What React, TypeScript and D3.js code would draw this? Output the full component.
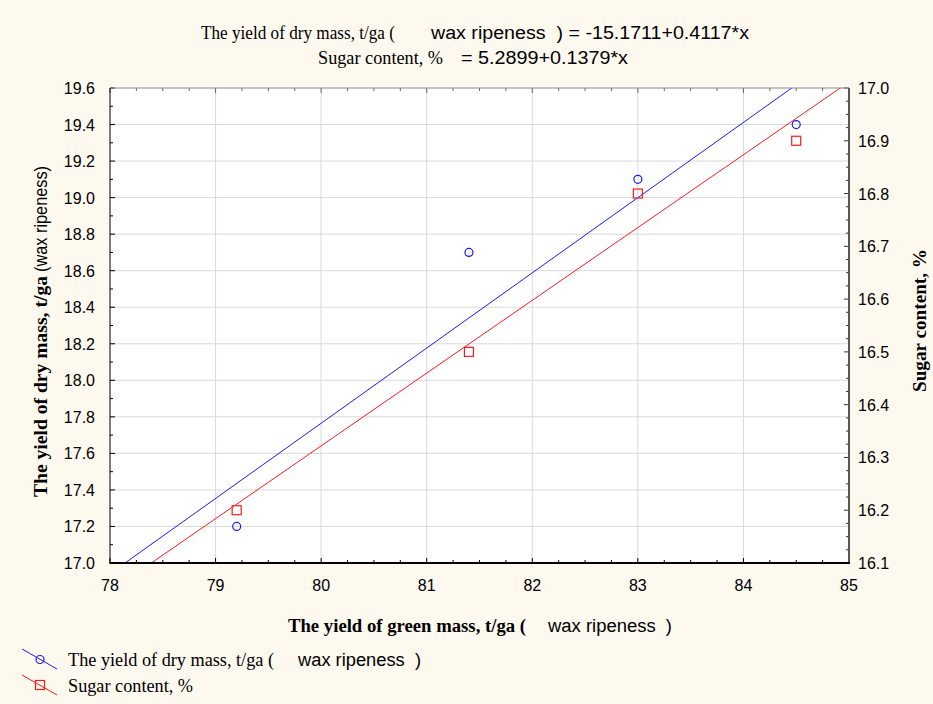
import React from "react";
import * as d3 from "d3";

const xValues = [79.2, 81.4, 83.0, 84.5];
const dryMass = [17.2, 18.7, 19.1, 19.4];
const sugar = [16.2, 16.5, 16.8, 16.9];
const xTicks = [78, 79, 80, 81, 82, 83, 84, 85];
const leftTicks = [17.0, 17.2, 17.4, 17.6, 17.8, 18.0, 18.2, 18.4, 18.6, 18.8, 19.0, 19.2, 19.4, 19.6];
const rightTicks = [16.1, 16.2, 16.3, 16.4, 16.5, 16.6, 16.7, 16.8, 16.9, 17.0];
const dryFit = [-15.1711, 0.4117];
const sugarFit = [5.2899, 0.1379];

const W = 933, H = 704;
const L = 110, R = 849, T = 88, B = 563;
const SERIF = "'Liberation Serif', 'Times New Roman', serif";
const SANS = "'Liberation Sans', Arial, sans-serif";
const BLUE = "#1a1aff";
const RED = "#ff1a1a";

type TProps = {
  x: number;
  y: number;
  len: number;
  serif?: boolean;
  bold?: boolean;
  size?: number;
  children: string;
};

function T_({ x, y, len, serif, bold, size, children }: TProps) {
  return (
    <text
      x={x}
      y={y}
      fontFamily={serif ? SERIF : SANS}
      fontWeight={bold ? "bold" : "normal"}
      fontSize={size ?? 18}
      fill="#000"
      textLength={len}
      lengthAdjust="spacingAndGlyphs"
      style={{ whiteSpace: "pre" }}
    >
      {children}
    </text>
  );
}

export default function App() {
  const x = d3.scaleLinear().domain([78, 85]).range([L, R]);
  const yL = d3.scaleLinear().domain([17.0, 19.6]).range([B, T]);
  const yR = d3.scaleLinear().domain([16.1, 17.0]).range([B, T]);

  const xMinor = d3.range(78, 85.001, 0.25);
  const lMinor = d3.range(17.0, 19.601, 0.1);
  const rMinor = d3.range(16.1, 17.001, 0.025);

  const lineGen = (fit: number[], y: d3.ScaleLinear<number, number>) =>
    d3.line<number>().x((d) => x(d)).y((d) => y(fit[0] + fit[1] * d))([77.5, 85.5]) || "";

  return (
    <svg width={W} height={H} style={{ position: "absolute", left: 0, top: 0 }}>
      <defs>
        <clipPath id="plotclip">
          <rect x={L} y={T} width={R - L} height={B - T} />
        </clipPath>
      </defs>
      <rect x={0} y={0} width={W} height={H} fill="#fdf9ef" />
      <rect x={L} y={T} width={R - L} height={B - T} fill="#ffffff" />
      {/* grid */}
      {xTicks.slice(1, -1).map((t) => (
        <line key={"gx" + t} x1={x(t)} x2={x(t)} y1={T} y2={B} stroke="#d9d9d9" strokeWidth={1} />
      ))}
      {leftTicks.slice(1, -1).map((t) => (
        <line key={"gy" + t} x1={L} x2={R} y1={yL(t)} y2={yL(t)} stroke="#d9d9d9" strokeWidth={1} />
      ))}
      {/* fit lines */}
      <g clipPath="url(#plotclip)">
        <path d={lineGen(dryFit, yL)} fill="none" stroke={BLUE} strokeWidth={1} />
        <path d={lineGen(sugarFit, yR)} fill="none" stroke={RED} strokeWidth={1} />
      </g>
      {/* points */}
      {xValues.map((v, i) => (
        <circle key={"c" + i} cx={x(v)} cy={yL(dryMass[i])} r={4} fill="none" stroke={BLUE} strokeWidth={1.2} />
      ))}
      {xValues.map((v, i) => (
        <rect key={"s" + i} x={x(v) - 4.5} y={yR(sugar[i]) - 4.5} width={9} height={9} fill="none" stroke={RED} strokeWidth={1.2} />
      ))}
      {/* ticks */}
      {xMinor.map((t, i) => {
        const major = i % 4 === 0;
        const len = major ? 5 : 3;
        return (
          <g key={"xt" + i}>
            <line x1={x(t)} x2={x(t)} y1={B} y2={B - len} stroke="#000" />
            <line x1={x(t)} x2={x(t)} y1={T} y2={T + len} stroke="#666" />
          </g>
        );
      })}
      {lMinor.map((t, i) => (
        <line key={"lt" + i} x1={L} x2={L + (i % 2 === 0 ? 5 : 3)} y1={yL(t)} y2={yL(t)} stroke="#000" />
      ))}
      {rMinor.map((t, i) => (
        <line key={"rt" + i} x1={R} x2={R - (i % 4 === 0 ? 5 : 3)} y1={yR(t)} y2={yR(t)} stroke="#333" />
      ))}
      {/* frame */}
      <line x1={L} x2={R} y1={T} y2={T} stroke="#888" strokeWidth={1} />
      <line x1={R} x2={R} y1={T} y2={B} stroke="#555" strokeWidth={2} />
      <line x1={L} x2={L} y1={T} y2={B} stroke="#000" strokeWidth={1} />
      <line x1={L - 0.5} x2={R + 1} y1={B} y2={B} stroke="#000" strokeWidth={2} />
      {/* tick labels */}
      {xTicks.map((t) => (
        <text key={"xl" + t} x={x(t)} y={591} textAnchor="middle" fontFamily={SANS} fontSize={16} fill="#000">
          {t}
        </text>
      ))}
      {leftTicks.map((t) => (
        <text key={"ll" + t} x={95} y={yL(t) + 6} textAnchor="end" fontFamily={SANS} fontSize={16} fill="#000">
          {t.toFixed(1)}
        </text>
      ))}
      {rightTicks.map((t) => (
        <text key={"rl" + t} x={858} y={yR(t) + 6} textAnchor="start" fontFamily={SANS} fontSize={16} fill="#000">
          {t.toFixed(1)}
        </text>
      ))}
      {/* chart title */}
      <T_ x={201} y={39} len={194} serif size={18}>The yield of dry mass, t/ga (</T_>
      <T_ x={431} y={39} len={318} size={18}>{"wax ripeness  ) = -15.1711+0.4117*x"}</T_>
      <T_ x={318} y={64} len={125} serif size={18}>Sugar content, %</T_>
      <T_ x={461} y={64} len={167} size={18}>= 5.2899+0.1379*x</T_>
      {/* x axis title */}
      <T_ x={288} y={632} len={238} serif bold size={18}>The yield of green mass, t/ga (</T_>
      <T_ x={548} y={632} len={124} size={18}>{"wax ripeness  )"}</T_>
      {/* left axis title */}
      <g transform="translate(47,497) rotate(-90)">
        <T_ x={0} y={0} len={221} serif bold size={18}>The yield of dry mass, t/ga</T_>
        <T_ x={225} y={0} len={106} size={19}>(wax ripeness)</T_>
      </g>
      {/* right axis title */}
      <g transform="translate(926,392) rotate(-90)">
        <T_ x={0} y={0} len={143} serif bold size={18}>Sugar content, %</T_>
      </g>
      {/* legend */}
      <g>
        <line x1={22} x2={57} y1={649} y2={669} stroke={BLUE} />
        <circle cx={40} cy={659.5} r={4} fill="none" stroke={BLUE} strokeWidth={1.2} />
        <T_ x={68} y={666} len={206} serif size={18}>The yield of dry mass, t/ga (</T_>
        <T_ x={298} y={666} len={123} size={18}>{"wax ripeness  )"}</T_>
        <line x1={22} x2={57} y1={675} y2={695} stroke={RED} />
        <rect x={35.5} y={680.5} width={9} height={9} fill="none" stroke={RED} strokeWidth={1.2} />
        <T_ x={68} y={692} len={125} serif size={18}>Sugar content, %</T_>
      </g>
    </svg>
  );
}
